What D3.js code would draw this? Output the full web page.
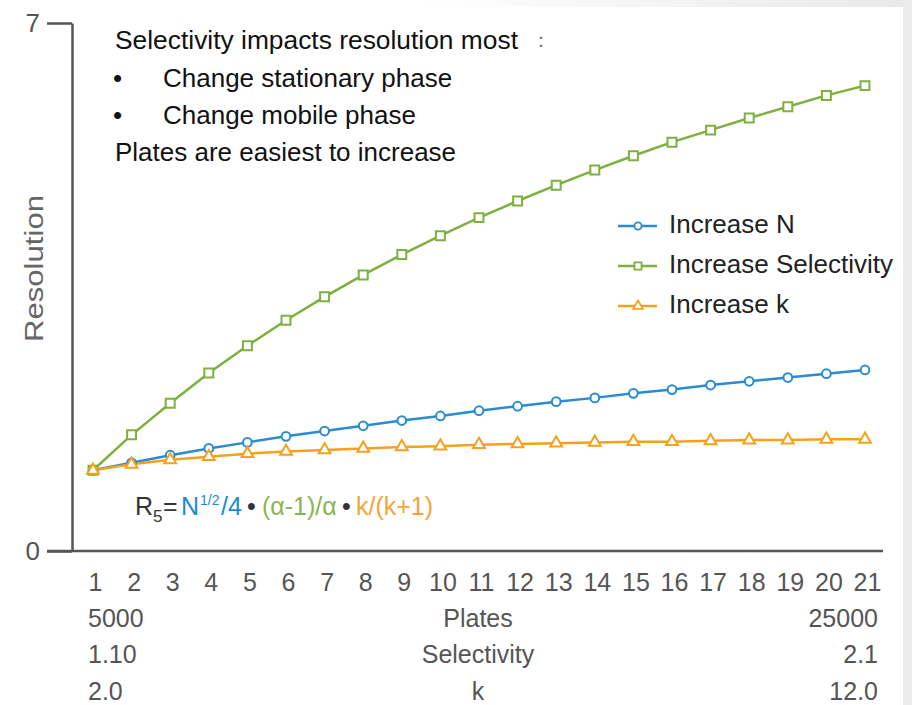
<!DOCTYPE html>
<html><head><meta charset="utf-8">
<script src="https://cdn.jsdelivr.net/npm/d3@7"></script>
<style>body{margin:0;background:#fff}svg{display:block;font-family:"Liberation Sans",Arial,sans-serif}</style>
</head><body><svg id="c" width="912" height="705"></svg>
<script>
// ---- data ----
const steps = [1,2,3,4,5,6,7,8,9,10,11,12,13,14,15,16,17,18,19,20,21];
const increaseN = [1.07,1.17,1.27,1.36,1.44,1.52,1.59,1.66,1.73,1.79,1.86,1.92,1.98,2.03,2.09,2.14,2.20,2.25,2.30,2.35,2.40];
const increaseSelectivity = [1.07,1.54,1.96,2.36,2.72,3.06,3.37,3.66,3.93,4.18,4.42,4.64,4.85,5.05,5.24,5.42,5.58,5.74,5.89,6.04,6.17];
const increaseK = [1.07,1.15,1.21,1.25,1.29,1.32,1.34,1.36,1.38,1.39,1.41,1.42,1.43,1.44,1.45,1.45,1.46,1.47,1.47,1.48,1.48];
const seriesNames = ["Increase N","Increase Selectivity","Increase k"];
const yTicks = [0,7];
const rowTitles = ["Plates","Selectivity","k"];
const rowStart = ["5000","1.10","2.0"];
const rowEnd = ["25000","2.1","12.0"];
const notes = ["Selectivity impacts resolution most","Change stationary phase","Change mobile phase","Plates are easiest to increase"];

const colors = ["#2a8bd0","#7db03e","#f5a11c"];
const shapes = [d3.symbolCircle, d3.symbolSquare, d3.symbolTriangle];
const sizes = [60, 80, 60];

const svg = d3.select("#c");
// faint gray page edges
const defs = svg.append("defs");
const gr = defs.append("linearGradient").attr("id","tg").attr("x1","0").attr("x2","1");
gr.append("stop").attr("offset","0").attr("stop-color","#fff");
gr.append("stop").attr("offset","1").attr("stop-color","#e9e9e9");
svg.append("rect").attr("x",420).attr("y",0).attr("width",492).attr("height",7).attr("fill","url(#tg)");
svg.append("rect").attr("x",903).attr("y",0).attr("width",9).attr("height",705).attr("fill","#ebebeb");

const x = d3.scaleLinear().domain([1,21]).range([93,865]);
const y = d3.scaleLinear().domain([0,7]).range([551,23]);
const axisColor = "#555";

// y axis
const ya = svg.append("g").attr("transform","translate(72,0)")
  .call(d3.axisLeft(y).tickValues(yTicks).tickFormat(d3.format("d")).tickSizeInner(25).tickSizeOuter(0).tickPadding(7));
ya.select(".domain").attr("stroke",axisColor).attr("stroke-width",2.5);
ya.selectAll(".tick line").attr("stroke",axisColor).attr("stroke-width",2.5);
ya.selectAll(".tick text").attr("font-size",26).attr("fill","#555").attr("font-family","Liberation Sans");

// x axis
svg.append("line").attr("x1",47).attr("x2",883).attr("y1",y(0)).attr("y2",y(0))
  .attr("stroke",axisColor).attr("stroke-width",2.5);
const xa = svg.append("g").attr("transform",`translate(0,${y(0)})`)
  .call(d3.axisBottom(x).tickValues(steps).tickSize(0).tickPadding(22).tickFormat(d3.format("d")));
xa.select(".domain").remove();
xa.selectAll(".tick text").attr("font-size",25).attr("fill","#555").attr("font-family","Liberation Sans").attr("dx",2);

// rows under the axis
const rowY = [627,663,700];
rowTitles.forEach((t,i)=>{
  svg.append("text").attr("x",88).attr("y",rowY[i]).attr("font-size",25).attr("fill","#555").text(rowStart[i]);
  svg.append("text").attr("x",478).attr("y",rowY[i]).attr("text-anchor","middle").attr("font-size",25).attr("fill","#555").text(t);
  svg.append("text").attr("x",878).attr("y",rowY[i]).attr("text-anchor","end").attr("font-size",25).attr("fill","#555").text(rowEnd[i]);
});

// y label
svg.append("text").attr("transform","translate(43,342) rotate(-90)")
  .attr("font-size",25).attr("fill","#666").attr("textLength",147).attr("lengthAdjust","spacingAndGlyphs").text("Resolution");

// series
const data = [increaseN, increaseSelectivity, increaseK];
const line = d3.line().x((d,i)=>x(steps[i])).y(d=>y(d));
data.forEach((s,k)=>{
  svg.append("path").attr("d",line(s)).attr("fill","none").attr("stroke",colors[k]).attr("stroke-width",2.5);
});
data.forEach((s,k)=>{
  svg.append("g").selectAll("path").data(s).join("path")
    .attr("transform",(d,i)=>`translate(${x(steps[i])},${y(d)})`)
    .attr("d",d3.symbol(shapes[k],sizes[k])())
    .attr("fill","#fff").attr("stroke",colors[k]).attr("stroke-width",2);
});

// legend
const lg = svg.append("g");
seriesNames.forEach((n,k)=>{
  const yy = 226 + k*40;
  lg.append("line").attr("x1",618).attr("x2",657).attr("y1",yy).attr("y2",yy).attr("stroke",colors[k]).attr("stroke-width",2.5);
  lg.append("path").attr("transform",`translate(638,${yy})`).attr("d",d3.symbol(shapes[k],k===1?50:40)())
    .attr("fill","#fff").attr("stroke",colors[k]).attr("stroke-width",1.8);
  lg.append("text").attr("x",669).attr("y",yy+7).attr("font-size",26).attr("fill","#222").text(n);
});

// notes
svg.append("text").attr("x",115).attr("y",49).attr("font-size",26).attr("fill","#111").attr("textLength",403).attr("lengthAdjust","spacingAndGlyphs").text(notes[0]);
svg.append("text").attr("x",531).attr("y",47).attr("font-size",20).attr("fill","#777").text("：");
svg.append("text").attr("x",113).attr("y",87).attr("font-size",26).attr("fill","#111").text("•");
svg.append("text").attr("x",163).attr("y",87).attr("font-size",26).attr("fill","#111").text(notes[1]);
svg.append("text").attr("x",113).attr("y",124).attr("font-size",26).attr("fill","#111").text("•");
svg.append("text").attr("x",163).attr("y",124).attr("font-size",26).attr("fill","#111").text(notes[2]);
svg.append("text").attr("x",115).attr("y",161).attr("font-size",26).attr("fill","#111").text(notes[3]);

// formula, built from separate pieces
const fy = 515;
const pieces = [
  {t:"R", x:135, dy:0, fs:25, c:"#333"},
  {t:"5", x:153, dy:7, fs:17, c:"#333"},
  {t:"=", x:163, dy:0, fs:25, c:"#333"},
  {t:"N", x:181, dy:0, fs:25, c:"#1a8ccf"},
  {t:"1/2", x:200, dy:-10, fs:14, c:"#1a8ccf"},
  {t:"/4", x:221, dy:0, fs:25, c:"#1a8ccf"},
  {t:"•", x:247, dy:0, fs:25, c:"#333"},
  {t:"(α-1)/α", x:262, dy:0, fs:25, c:"#8cb451"},
  {t:"•", x:342, dy:0, fs:25, c:"#333"},
  {t:"k/(k+1)", x:356, dy:0, fs:25, c:"#f2a53a"}
];
svg.append("g").selectAll("text").data(pieces).join("text")
  .attr("x",d=>d.x).attr("y",d=>fy+d.dy).attr("font-size",d=>d.fs).attr("fill",d=>d.c).text(d=>d.t);
</script></body></html>
